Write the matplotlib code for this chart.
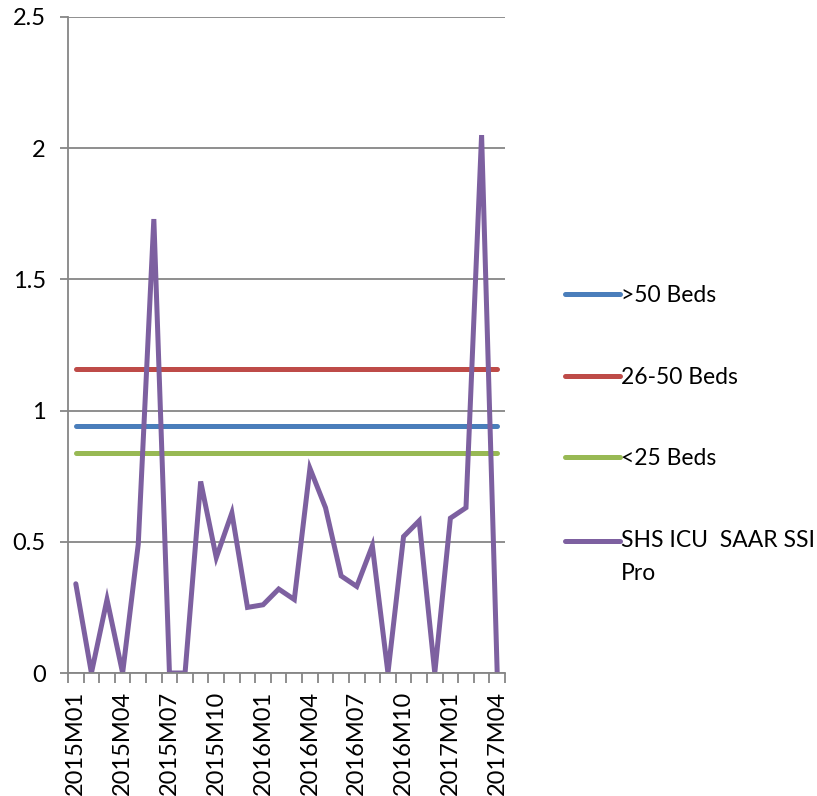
import matplotlib
matplotlib.use("Agg")
import matplotlib.pyplot as plt

# data
months = ["2015M01", "2015M02", "2015M03", "2015M04", "2015M05", "2015M06", "2015M07",
          "2015M08", "2015M09", "2015M10", "2015M11", "2015M12", "2016M01", "2016M02",
          "2016M03", "2016M04", "2016M05", "2016M06", "2016M07", "2016M08", "2016M09",
          "2016M10", "2016M11", "2016M12", "2017M01", "2017M02", "2017M03", "2017M04"]
shs_icu = [0.34, 0, 0.28, 0, 0.49, 1.73, 0, 0, 0.73, 0.44, 0.61, 0.25, 0.26, 0.32,
           0.28, 0.78, 0.63, 0.37, 0.33, 0.485, 0, 0.52, 0.58, 0, 0.59, 0.63, 2.05, 0]
beds_over_50 = 0.94
beds_26_50 = 1.16
beds_under_25 = 0.84
yticks = [0, 0.5, 1, 1.5, 2, 2.5]
ytick_labels = ["0", "0.5", "1", "1.5", "2", "2.5"]

plt.rcParams['font.family'] = ['Lato', 'DejaVu Sans']
fs = 17
lfs = 16.5
grey = "#868686"

fig = plt.figure(figsize=(8.17, 7.96), dpi=100)
ax = fig.add_axes([68/817, 1-673/796, (505-68)/817, (673-17)/796])

x = list(range(len(months)))
n = len(months)
ax.plot(x, [beds_over_50]*n, color="#4A7EBB", lw=3.6, solid_capstyle="round", label=">50 Beds")
ax.plot(x, [beds_26_50]*n, color="#BE4B48", lw=3.6, solid_capstyle="round", label="26-50 Beds")
ax.plot(x, [beds_under_25]*n, color="#98B954", lw=3.6, solid_capstyle="round", label="<25 Beds")
ax.plot(x, shs_icu, color="#7D60A0", lw=3.6, solid_capstyle="round", solid_joinstyle="miter",
        label="SHS ICU  SAAR SSI\nPro")

ax.set_xlim(-0.5, n-0.5)
ax.set_ylim(0, 2.5)
ax.set_yticks(yticks)
ax.set_yticklabels(ytick_labels, fontsize=fs)
ax.yaxis.grid(True, color=grey, lw=1.3)
ax.set_axisbelow(True)

ax.set_xticks(x[::3])
ax.set_xticklabels(months[::3], rotation=90, fontsize=fs)
ax.set_xticks([i-0.5 for i in range(n+1)], minor=True)
ax.tick_params(axis='x', which='major', length=0, pad=13)
ax.tick_params(axis='x', which='minor', length=7, color=grey, width=1.3)
ax.tick_params(axis='y', length=6, color=grey, width=1.3, pad=10)

for s in ["top", "right"]:
    ax.spines[s].set_visible(False)
for s in ["left", "bottom"]:
    ax.spines[s].set_color(grey)
    ax.spines[s].set_linewidth(1.3)

leg = fig.legend(loc="upper left", bbox_to_anchor=(565/817, 1-285/796), frameon=False,
                 fontsize=lfs, handlelength=2.4, handletextpad=0.05, labelspacing=2.65,
                 borderpad=0, borderaxespad=0)
# wider gap between the two lines of the last label, handle level with its first line
leg.get_texts()[3].set_linespacing(1.7)
h = leg.legend_handles[3]
h.set_ydata([y + 12.2 for y in h.get_ydata()])

fig.savefig("out.png", dpi=100)
